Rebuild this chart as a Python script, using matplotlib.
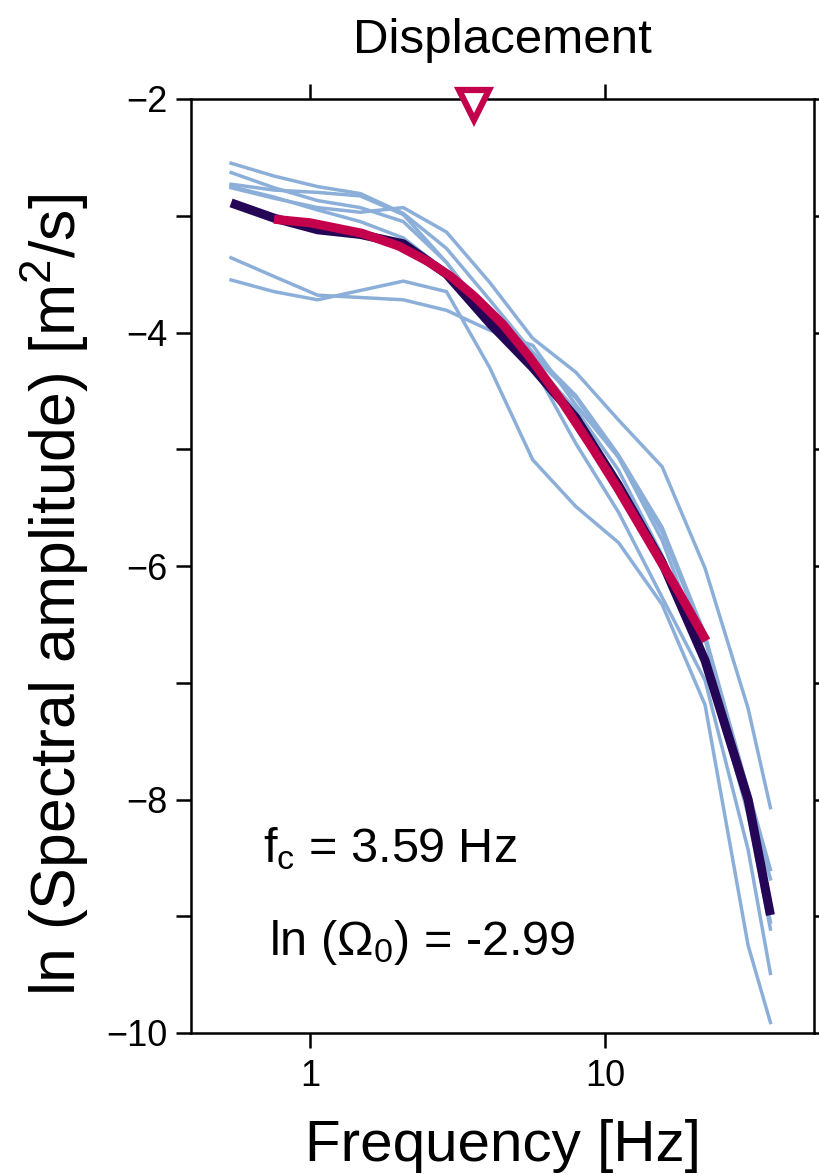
import matplotlib
matplotlib.use("Agg")
import matplotlib.pyplot as plt
from matplotlib import font_manager
from matplotlib.ticker import FixedLocator, NullLocator, FixedFormatter

names = {f.name for f in font_manager.fontManager.ttflist}
FONT = "Liberation Sans Narrow" if "Liberation Sans Narrow" in names else "Liberation Sans"
plt.rcParams["font.family"] = [FONT, "DejaVu Sans"]
plt.rcParams["mathtext.fontset"] = "custom"
plt.rcParams["mathtext.rm"] = FONT
plt.rcParams["mathtext.it"] = FONT

# ---- data ----
freq = [0.54, 0.755, 1.06, 1.48, 2.07, 2.90, 4.06, 5.68, 7.95, 11.1, 15.6, 21.8, 30.5, 36.3]

station_1 = [-2.76, -2.85, -2.93, -2.97, -2.93, -3.14, -3.57, -4.05, -4.34, -4.75, -5.15, -6.02, -7.22, -8.07]
station_2 = [-3.55, -3.65, -3.72, -3.64, -3.56, -3.65, -4.30, -5.09, -5.49, -5.80, -6.33, -7.19, -9.25, -9.91]
station_3 = [-3.36, -3.52, -3.68, -3.70, -3.72, -3.81, -3.98, -4.11, -4.62, -5.07, -5.78, -6.76, -8.13, -9.11]
station_4 = [-2.55, -2.66, -2.75, -2.81, -2.98, -3.28, -3.72, -4.17, -4.54, -5.05, -5.67, -6.59, -7.92, -8.60]
station_5 = [-2.63, -2.76, -2.87, -2.93, -3.05, -3.40, -3.88, -4.20, -4.56, -5.07, -5.71, -6.63, -7.99, -8.68]
station_6 = [-2.73, -2.78, -2.80, -2.83, -2.99, -3.40, -3.88, -4.28, -4.95, -5.54, -6.27, -6.98, -8.43, -9.49]
station_7 = [-2.75, -2.84, -2.95, -3.05, -3.19, -3.48, -3.85, -4.25, -4.66, -5.18, -5.91, -6.85, -8.09, -9.05]
stations = [station_1, station_2, station_3, station_4, station_5, station_6, station_7]

mean_spec = [-2.89, -3.02, -3.12, -3.16, -3.24, -3.50, -3.92, -4.30, -4.73, -5.31, -5.97, -6.81, -8.00, -8.99]

fit_freq = [0.755, 1.0, 1.5, 2.0, 2.5, 3.0, 3.6, 4.5, 5.5, 7.0, 9.0, 11.0, 14.0, 18.0, 22.0]
fit_vals = [-3.03, -3.06, -3.15, -3.26, -3.39, -3.52, -3.69, -3.93, -4.20, -4.56, -4.98, -5.33, -5.78, -6.25, -6.64]

fc = 3.59
ln_omega0 = -2.99

yticks = [-10, -9, -8, -7, -6, -5, -4, -3, -2]
ytick_labels = ["\u221210", "", "\u22128", "", "\u22126", "", "\u22124", "", "\u22122"]
xticks = [1, 10]
xtick_labels = ["1", "10"]

# ---- plot ----
fig = plt.figure(figsize=(8.2, 11.74), dpi=100)
ax = fig.add_axes([191/820, 1 - 1033/1174, (814 - 191)/820, (1033 - 99)/1174])

BLUE = "#8cafd9"
NAVY = "#240556"
CRIMSON = "#c4004c"

for s in stations:
    ax.plot(freq, s, color=BLUE, lw=2.5, zorder=2)
ax.plot(freq, mean_spec, color=NAVY, lw=6.5, solid_capstyle="butt", zorder=3)
ax.plot(fit_freq, fit_vals, color=CRIMSON, lw=6.5, solid_capstyle="butt", zorder=4)

ax.plot([fc], [-2.05], marker="v", ms=22, mfc="white", mec=CRIMSON, mew=4.5,
        clip_on=False, zorder=6)

ax.set_xscale("log")
ax.set_xlim(0.395, 51)
ax.set_ylim(-10, -2)

ax.xaxis.set_major_locator(FixedLocator(xticks))
ax.xaxis.set_major_formatter(FixedFormatter(xtick_labels))
ax.xaxis.set_minor_locator(NullLocator())
ax.yaxis.set_major_locator(FixedLocator(yticks))
ax.yaxis.set_major_formatter(FixedFormatter(ytick_labels))

ax.tick_params(axis="both", which="major", direction="out", length=11, width=1.8,
               labelsize=26, top=True, right=True, pad=6)
ax.tick_params(axis="x", pad=8)
for sp in ax.spines.values():
    sp.set_linewidth(1.8)

ax.set_xlabel("Frequency [Hz]", fontsize=42, labelpad=18)
ax.set_ylabel("ln (Spectral amplitude) [m$^\\mathregular{2}$/s]", fontsize=45)
ax.yaxis.set_label_coords(-0.16, (1033 - 595) / 934)
ax.set_title("Displacement", fontsize=35.5, pad=33)

ax.text(0.115, 0.183, "f$_\\mathregular{c}$ = 3.59 Hz", transform=ax.transAxes,
        fontsize=35, va="baseline", ha="left")
ax.text(0.125, 0.0835, "ln (\u03a9$_\\mathregular{0}$) = -2.99", transform=ax.transAxes,
        fontsize=35, va="baseline", ha="left")

fig.savefig("out.png", dpi=100)
